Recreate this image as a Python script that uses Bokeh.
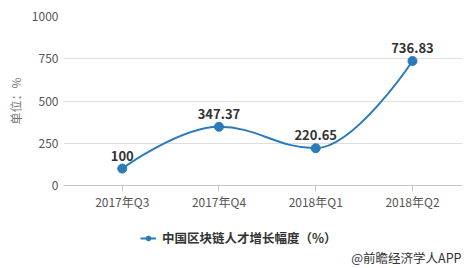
from bokeh.plotting import figure
from bokeh.layouts import column
from bokeh.models import (Range1d, FixedTicker, Legend, LegendItem, Label,
                          ColumnDataSource)
from bokeh.core.properties import value
from bokeh.embed import file_html
from bokeh.resources import INLINE

categories = ["2017年Q3", "2017年Q4", "2018年Q1", "2018年Q2"]
growth = [100, 347.37, 220.65, 736.83]
value_labels = ["100", "347.37", "220.65", "736.83"]
series_name = "中国区块链人才增长幅度（%）"
y_ticks = [0, 250, 500, 750, 1000]
y_title = "单位：%"
footer = "@前瞻经济学人APP"

FONT = "Noto Sans CJK SC"
BLUE = "#2b7bba"

xs = [i + 0.5 for i in range(len(categories))]

# Highcharts-style spline control points
def spline_controls(x, y, smoothing=1.5):
    n = len(x)
    left = [(x[i], y[i]) for i in range(n)]
    right = [(x[i], y[i]) for i in range(n)]
    d = smoothing + 1
    for i in range(1, n - 1):
        lx, ly = x[i - 1], y[i - 1]
        nx, ny = x[i + 1], y[i + 1]
        px, py = x[i], y[i]
        lcx = (smoothing * px + lx) / d
        lcy = (smoothing * py + ly) / d
        rcx = (smoothing * px + nx) / d
        rcy = (smoothing * py + ny) / d
        if rcx != lcx:
            corr = (rcy - lcy) * (rcx - px) / (rcx - lcx) + py - rcy
            lcy += corr
            rcy += corr
            if lcy > ly and lcy > py:
                lcy = max(ly, py); rcy = 2 * py - lcy
            elif lcy < ly and lcy < py:
                lcy = min(ly, py); rcy = 2 * py - lcy
            if rcy > ny and rcy > py:
                rcy = max(ny, py); lcy = 2 * py - rcy
            elif rcy < ny and rcy < py:
                rcy = min(ny, py); lcy = 2 * py - rcy
        left[i] = (lcx, lcy)
        right[i] = (rcx, rcy)
    segs = dict(x0=[], y0=[], x1=[], y1=[], cx0=[], cy0=[], cx1=[], cy1=[])
    for i in range(n - 1):
        segs["x0"].append(x[i]); segs["y0"].append(y[i])
        segs["x1"].append(x[i + 1]); segs["y1"].append(y[i + 1])
        segs["cx0"].append(right[i][0]); segs["cy0"].append(right[i][1])
        segs["cx1"].append(left[i + 1][0]); segs["cy1"].append(left[i + 1][1])
    return segs

p = figure(width=473, height=212, output_backend="svg", toolbar_location=None,
           x_range=Range1d(-0.107, 4.017), y_range=Range1d(0, 1000),
           min_border_left=63, min_border_right=11, min_border_top=16,
           min_border_bottom=26)
p.outline_line_color = None
p.background_fill_color = "white"
p.border_fill_color = "white"

# axes
p.xaxis.ticker = FixedTicker(ticks=xs)
p.xaxis.major_label_overrides = {x: c for x, c in zip(xs, categories)}
p.xaxis.axis_line_color = "#c8c8c8"
p.xaxis.major_tick_line_color = "#c8c8c8"
p.xaxis.major_tick_out = 6
p.xaxis.major_tick_in = 0
p.xaxis.minor_tick_line_color = None
p.xaxis.major_label_text_font = FONT
p.xaxis.major_label_text_font_size = "12px"
p.xaxis.major_label_text_color = "#555555"
p.xaxis.major_label_standoff = 1

p.yaxis.ticker = FixedTicker(ticks=y_ticks)
p.yaxis.axis_line_color = None
p.yaxis.major_tick_line_color = None
p.yaxis.minor_tick_line_color = None
p.yaxis.major_tick_out = 0
p.yaxis.major_tick_in = 0
p.yaxis.major_label_standoff = 5
p.yaxis.major_label_text_font = FONT
p.yaxis.major_label_text_font_size = "12px"
p.yaxis.major_label_text_color = "#555555"
p.yaxis.axis_label = y_title
p.yaxis.axis_label_text_font = FONT
p.yaxis.axis_label_text_font_style = "normal"
p.yaxis.axis_label_text_font_size = "12px"
p.yaxis.axis_label_text_color = "#777777"
p.yaxis.axis_label_standoff = 5

p.xgrid.grid_line_color = None
p.ygrid.grid_line_color = "#dedede"
p.ygrid.grid_line_width = 1

segs = spline_controls(xs, growth)
p.bezier(x0="x0", y0="y0", x1="x1", y1="y1", cx0="cx0", cy0="cy0",
         cx1="cx1", cy1="cy1", source=ColumnDataSource(segs),
         line_color=BLUE, line_width=2)

src = ColumnDataSource(dict(x=xs, y=growth, lab=value_labels))
p.scatter("x", "y", source=src, size=9, fill_color=BLUE, line_color=BLUE)
p.text("x", "y", text="lab", source=src, text_align="center",
       text_baseline="bottom", y_offset=-8, text_font=value(FONT),
       text_font_size="13px", text_font_style="bold", text_color="#333333")

# footer strip with legend and source note (frame aligned with main plot)
f = figure(width=473, height=56, output_backend="svg", toolbar_location=None,
           x_range=Range1d(0, 1), y_range=Range1d(0, 1),
           min_border=0, x_axis_type=None, y_axis_type=None)
f.outline_line_color = None
f.xgrid.grid_line_color = None
f.ygrid.grid_line_color = None
f.background_fill_color = "white"
f.border_fill_color = "white"

lg_line = f.line(x=[-10], y=[-10], line_color=BLUE, line_width=2)
lg_pt = f.scatter(x=[-10], y=[-10], size=9, fill_color=BLUE, line_color=BLUE)
legend = Legend(items=[LegendItem(label=series_name, renderers=[lg_line, lg_pt])],
                location=(77, 21), orientation="horizontal",
                label_text_font=FONT, label_text_font_size="12.5px",
                label_text_font_style="bold", label_text_color="#333333",
                background_fill_alpha=0, border_line_color=None,
                glyph_width=16, glyph_height=12, label_standoff=6,
                padding=2, margin=0)
f.add_layout(legend, "center")

f.add_layout(Label(x=398, y=11, x_units="screen", y_units="screen",
                   text=footer, text_align="right", text_baseline="middle",
                   text_font=FONT, text_font_size="12.5px",
                   text_color="#333333"))

open("out.html", "w").write(file_html(column(p, f, spacing=0), INLINE))
